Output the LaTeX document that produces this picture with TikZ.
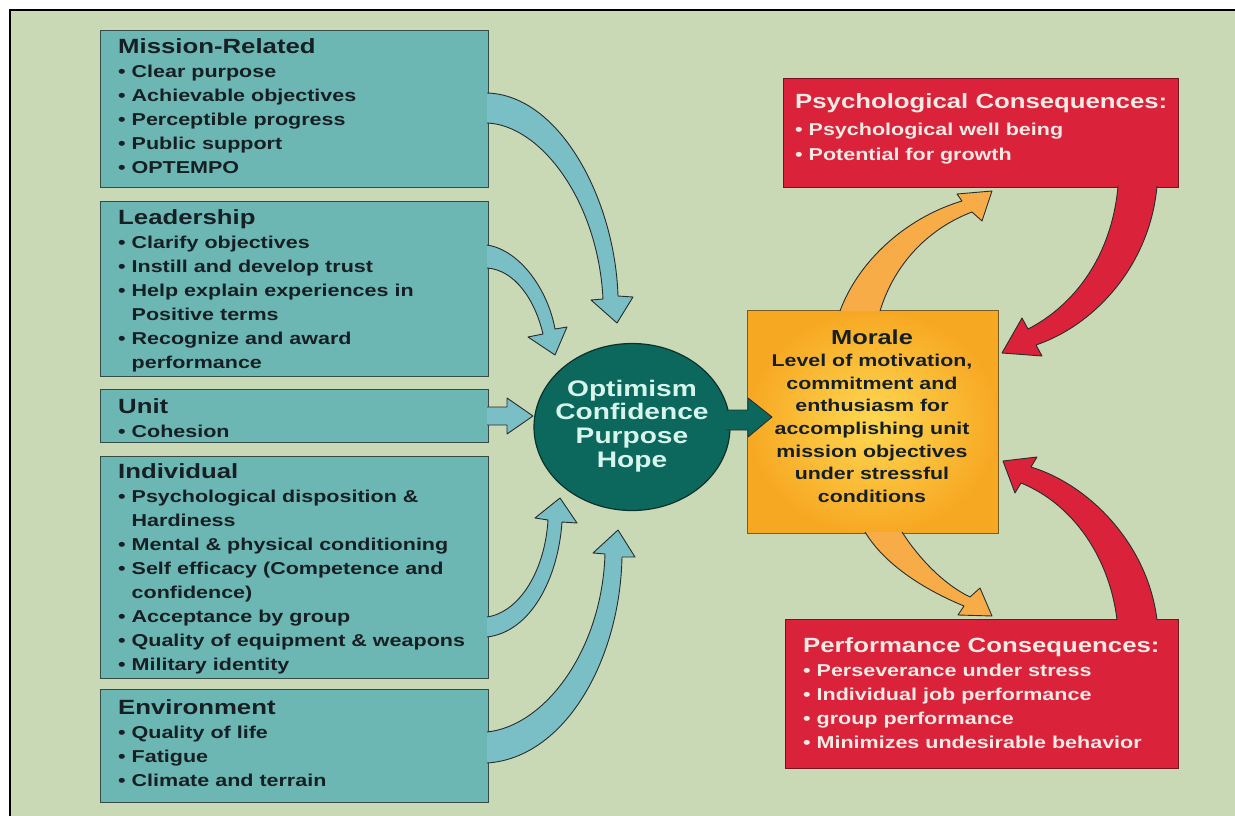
\documentclass[tikz,border=0pt]{standalone}
\usepackage{fontspec}
\setmainfont{Liberation Sans}[FakeStretch=1.25]
\usetikzlibrary{shapes.geometric}
\definecolor{bg}{RGB}{201,216,181}
\definecolor{tealfill}{RGB}{108,182,180}
\definecolor{tealedge}{RGB}{55,75,70}
\definecolor{tealarrow}{RGB}{122,190,198}
\definecolor{darktext}{RGB}{22,32,36}
\definecolor{circfill}{RGB}{12,104,92}
\definecolor{circedge}{RGB}{10,50,45}
\definecolor{circtext}{RGB}{215,245,236}
\definecolor{redfill}{RGB}{218,34,58}
\definecolor{rededge}{RGB}{115,20,30}
\definecolor{redtext}{RGB}{246,234,228}
\definecolor{orangearrow}{RGB}{247,172,72}
\definecolor{moraleout}{RGB}{247,168,35}
\definecolor{moralein}{RGB}{255,216,82}
\definecolor{moraleedge}{RGB}{120,90,35}
\definecolor{outl}{RGB}{40,45,45}
\newcommand{\hd}[1]{{\fontsize{20.6}{24}\selectfont #1}}
\newcommand{\bl}{•\ }
\newcommand{\ind}{\phantom{•\ }}
\newcommand{\barrow}[3]{\fill[#1] #3 -- cycle; \draw[#2] #3;}
\tikzset{
  tealbox/.style={draw=tealedge, line width=1.4pt, fill=tealfill, minimum width=388pt, anchor=north west, inner sep=0},
  redbox/.style={draw=rededge, line width=1.4pt, fill=redfill, anchor=north west, inner sep=0},
  boxtext/.style={anchor=base west, inner sep=0, text=darktext, font=\bfseries\fontsize{17.2}{24}\selectfont},
  redtextstyle/.style={anchor=base west, inner sep=0, text=redtext, font=\bfseries\fontsize{17.2}{24}\selectfont},
  arrline/.style={draw=outl, line width=0.9pt, line join=round},
}
\begin{document}
\begin{tikzpicture}[x=1pt,y=-1pt]
\useasboundingbox (0,0) rectangle (1235,816);
\fill[white] (0,0) rectangle (1235,816);
\fill[bg] (10,10) rectangle (1235,816);
\draw[black, line width=2.5pt] (10,816) -- (10,10) -- (1235,10);

% left boxes
\node[tealbox, minimum height=157pt] (mission) at (100,30) {};
\node[tealbox, minimum height=175pt] (leader) at (100,201) {};
\node[tealbox, minimum height=53pt] (unit) at (100,389) {};
\node[tealbox, minimum height=222pt] (indiv) at (100,456) {};
\node[tealbox, minimum height=113pt] (env) at (100,689) {};

% hub
\node[ellipse, draw=circedge, line width=1.2pt, fill=circfill, minimum width=196pt, minimum height=167pt, inner sep=0] (hub) at (632,427) {};

% morale
\node[draw=moraleedge, line width=1.2pt, inner color=moralein, outer color=moraleout, minimum width=251pt, minimum height=223pt, anchor=north west, inner sep=0] (morale) at (747,310) {};

% red boxes
\node[redbox, minimum width=395pt, minimum height=109pt] (psych) at (783,78) {};
\node[redbox, minimum width=393pt, minimum height=149pt] (perf) at (785,619) {};

% teal arrows
\barrow{tealarrow}{arrline}{(487,93) .. controls (560,95) and (615,200) .. (618,296) -- (633,297) -- (617,323) -- (591,300) -- (603,299) .. controls (598,200) and (540,125) .. (487,123)}
\barrow{tealarrow}{arrline}{(487,245) .. controls (520,250) and (548,290) .. (555,329) -- (567,327) -- (555,355) -- (528,337) -- (543,334) .. controls (535,300) and (515,270) .. (487,268)}
\barrow{tealarrow}{arrline}{(487,407) -- (507,407) -- (507,398) -- (533,416) -- (507,434) -- (507,425) -- (487,425)}
\barrow{tealarrow}{arrline}{(487,617) .. controls (520,612) and (545,570) .. (548,520) -- (535,518) -- (560,498) -- (577,523) -- (562,522) .. controls (558,580) and (530,632) .. (487,637)}
\barrow{tealarrow}{arrline}{(487,732) .. controls (545,726) and (602,650) .. (605,554) -- (593,553) -- (618,530) -- (635,557) -- (622,557) .. controls (620,660) and (565,758) .. (487,763)}

% hub to morale
\barrow{circfill}{arrline}{(726,410) -- (748,410) -- (748,398) -- (772,417) -- (748,437) -- (748,430) -- (726,430)}

% orange arrows
\barrow{orangearrow}{arrline}{(840,311) .. controls (858,262) and (905,218) .. (962,201) -- (957,194) -- (992,191) -- (982,221) -- (972,212) .. controls (930,228) and (895,262) .. (880,311)}
\barrow{orangearrow}{arrline}{(902,532) .. controls (920,560) and (945,585) .. (970,597) -- (980,588) -- (992,616) -- (958,615) -- (964,606) .. controls (925,590) and (885,565) .. (865,532)}

% red arrows
\barrow{redfill}{arrline}{(1157,186) .. controls (1150,265) and (1095,325) .. (1036,345) -- (1042,356) -- (1002,353) -- (1022,318) -- (1028,329) .. controls (1075,305) and (1112,255) .. (1118,186)}
\barrow{redfill}{arrline}{(1157,620) .. controls (1148,545) and (1090,485) .. (1031,467) -- (1037,457) -- (1003,461) -- (1015,493) -- (1021,483) .. controls (1075,505) and (1110,560) .. (1117,620)}

% texts
\node[boxtext] (tmission) at (118,54) {\begin{minipage}[t]{360pt}\raggedright
\hd{Mission-Related}\\ \bl Clear purpose\\ \bl Achievable objectives\\ \bl Perceptible progress\\ \bl Public support\\ \bl OPTEMPO\end{minipage}};
\node[boxtext] (tleader) at (118,224) {\begin{minipage}[t]{360pt}\raggedright
\hd{Leadership}\\ \bl Clarify objectives\\ \bl Instill and develop trust\\ \bl Help explain experiences in\\ \ind Positive terms\\ \bl Recognize and award\\ \ind performance\end{minipage}};
\node[boxtext] (tunit) at (118,413) {\begin{minipage}[t]{360pt}\raggedright
\hd{Unit}\\ \bl Cohesion\end{minipage}};
\node[boxtext] (tindiv) at (118,478) {\begin{minipage}[t]{360pt}\raggedright
\hd{Individual}\\ \bl Psychological disposition \&\\ \ind Hardiness\\ \bl Mental \& physical conditioning\\ \bl Self efficacy (Competence and\\ \ind confidence)\\ \bl Acceptance by group\\ \bl Quality of equipment \& weapons\\ \bl Military identity\end{minipage}};
\node[boxtext] (tenv) at (118,714) {\begin{minipage}[t]{360pt}\raggedright
\hd{Environment}\\ \bl Quality of life\\ \bl Fatigue\\ \bl Climate and terrain\end{minipage}};

\node[anchor=base, inner sep=0, text=circtext, font=\bfseries\fontsize{22.5}{23.7}\selectfont] (thub) at (632,396) {\begin{minipage}[t]{190pt}\centering
Optimism\\ Confidence\\ Purpose\\ Hope\end{minipage}};

\node[anchor=base, inner sep=0, text=darktext, font=\bfseries\fontsize{17.1}{22.6}\selectfont] (tmorale) at (872,344) {\begin{minipage}[t]{245pt}\centering
{\fontsize{20.3}{22.6}\selectfont Morale}\\ Level of motivation,\\ commitment and\\ enthusiasm for\\ accomplishing unit\\ mission objectives\\ under stressful\\ conditions\end{minipage}};

\node[redtextstyle] (tpsych) at (795,108) {\begin{minipage}[t]{380pt}\raggedright
\hd{Psychological Consequences:}\\[4pt] \bl Psychological well being\\ \bl Potential for growth\end{minipage}};
\node[redtextstyle] (tperf) at (803,652) {\begin{minipage}[t]{370pt}\raggedright
\hd{Performance Consequences:}\\ \bl Perseverance under stress\\ \bl Individual job performance\\ \bl group performance\\ \bl Minimizes undesirable behavior\end{minipage}};
\end{tikzpicture}
\end{document}
